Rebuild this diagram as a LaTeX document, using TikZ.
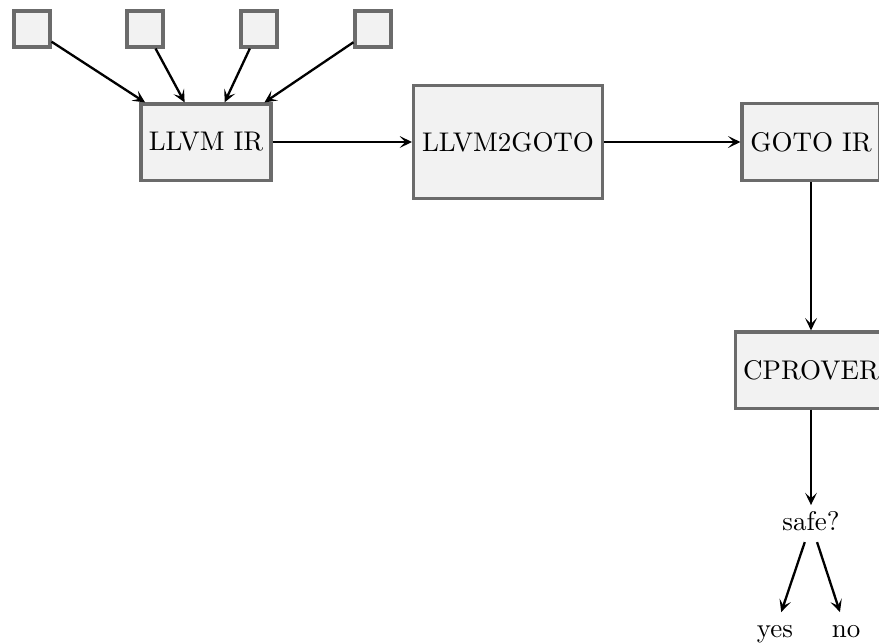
\documentclass[tikz,border=0pt]{standalone}
\usetikzlibrary{arrows.meta}
\begin{document}
\begin{tikzpicture}[x=0.389pt,y=-0.389pt,
  every node/.style={font=\fontsize{10.5}{13}\selectfont},
  box/.style={draw={rgb,1:red,0.42;green,0.42;blue,0.42},line width=1.2pt,fill=gray!10,inner sep=2pt},
  leaf/.style={box,minimum width=14pt,minimum height=14pt},
  plain/.style={inner sep=2pt,text height=0.75em,text depth=0.25em,anchor=base},
  flow/.style={-{Stealth[length=4.8pt,width=4.6pt,inset=2.2pt]},black,line width=0.9pt}]
  \useasboundingbox (0,0) rectangle (879,643);
  \clip (0,0) rectangle (879,643);
  % input modules
  \node[leaf] (s1) at (32,29) {};
  \node[leaf] (s2) at (145,29) {};
  \node[leaf] (s3) at (259,29) {};
  \node[leaf] (s4) at (373,29) {};
  % pipeline stages
  \node[box,minimum width=50.6pt,minimum height=29.6pt] (llvm) at (206,142) {LLVM IR};
  \node[box,minimum width=73.5pt,minimum height=44.3pt] (conv) at (508,142) {LLVM2GOTO};
  \node[box,minimum width=53.7pt,minimum height=29.9pt] (goto) at (811,142) {GOTO IR};
  \node[box,minimum width=59pt,minimum height=29.6pt] (cprover) at (811,370) {CPROVER};
  % verdict
  \node[plain] (safe) at (811,530) {safe?};
  \node[plain] (yes) at (775,637) {yes};
  \node[plain] (no) at (846,637) {no};
  % connectors
  \foreach \s in {s1,s2,s3,s4} \draw[flow] (\s) -- (llvm);
  \draw[flow] (llvm) -- (conv);
  \draw[flow] (conv) -- (goto);
  \draw[flow] (goto) -- (cprover);
  \draw[flow] (cprover) -- (safe);
  \draw[flow] (safe) -- (yes);
  \draw[flow] (safe) -- (no);
\end{tikzpicture}
\end{document}
